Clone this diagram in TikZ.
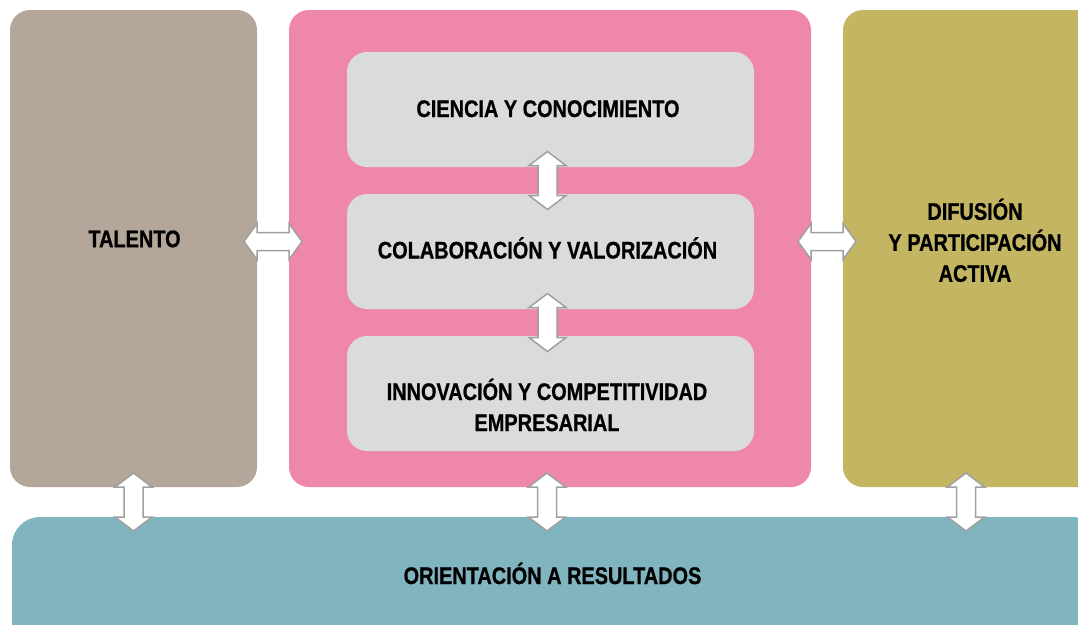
\documentclass[tikz,border=0pt]{standalone}
\usepackage{fontspec}
\newfontfamily\labfont{Liberation Sans}[FakeStretch=0.83,FakeBold=0.8]
\usetikzlibrary{calc}
\definecolor{talentoc}{RGB}{180,166,152}
\definecolor{pinkc}{RGB}{239,135,168}
\definecolor{greenc}{RGB}{195,181,98}
\definecolor{bluec}{RGB}{128,181,192}
\definecolor{greyc}{RGB}{218,220,219}
\definecolor{arrowc}{RGB}{160,160,160}
\newcommand\capline[1]{\raisebox{0pt}[17pt][0pt]{#1}}
\newcommand\harrowat[1]{\draw[blockarrow] (#1) ++(-29,0) -- ++(13,-18) -- ++(0,9) -- ++(32,0) -- ++(0,-9) -- ++(13,18) -- ++(-13,18) -- ++(0,-9) -- ++(-32,0) -- ++(0,9) -- cycle;}
\newcommand\varrowat[1]{\draw[blockarrow] (#1) ++(0,-29) -- ++(18.5,14) -- ++(-9,0) -- ++(0,30) -- ++(9,0) -- ++(-18.5,14) -- ++(-18.5,-14) -- ++(9,0) -- ++(0,-30) -- ++(-9,0) -- cycle;}
\tikzset{
  box/.style={draw=none, inner sep=0pt, outer sep=0pt, anchor=north west, rounded corners=20pt},
  lab/.style={inner sep=0pt, align=center, font=\labfont\bfseries\fontsize{24}{31}\selectfont, text=black},
  blockarrow/.style={fill=white, draw=arrowc, line width=1.5pt, line join=miter}
}
\begin{document}
\begin{tikzpicture}[x=1pt,y=-1pt]
\clip (0,0) rectangle (1078,624);
% boxes
\node[box, fill=talentoc, minimum width=247pt, minimum height=477pt] (talento) at (10,10) {};
\node[box, fill=pinkc, minimum width=522pt, minimum height=477pt] (pink) at (289,10) {};
\node[box, fill=greenc, minimum width=264pt, minimum height=477pt] (green) at (843,10) {};
\node[box, fill=bluec, minimum width=1088pt, minimum height=150pt, rounded corners=28pt] (blue) at (12,517) {};
\node[box, fill=greyc, minimum width=407pt, minimum height=115pt] (c1) at (347,52) {};
\node[box, fill=greyc, minimum width=407pt, minimum height=115pt] (c2) at (347,194) {};
\node[box, fill=greyc, minimum width=407pt, minimum height=115pt] (c3) at (347,336) {};
% texts
\node[lab] (tt) at (134.5,238.7) {\capline{TALENTO}};
\node[lab] (t1) at (548,108.5) {\capline{CIENCIA Y CONOCIMIENTO}};
\node[lab] (t2) at (547.5,250) {\capline{COLABORACIÓN Y VALORIZACIÓN}};
\node[lab] (t3) at (547,407) {\capline{INNOVACIÓN Y COMPETITIVIDAD}\\\capline{EMPRESARIAL}};
\node[lab] (tg) at (975,242.3) {\capline{DIFUSIÓN}\\\capline{Y PARTICIPACIÓN}\\\capline{ACTIVA}};
\node[lab] (tb) at (552.5,575.5) {\capline{ORIENTACIÓN A RESULTADOS}};
% connectors
\harrowat{$(talento.east)!0.5!(pink.west)+(0,-7)$}
\harrowat{$(pink.east)!0.5!(green.west)+(0,-7)$}
\varrowat{$(c1.south)!0.5!(c2.north)+(-3,0)$}
\varrowat{$(c2.south)!0.5!(c3.north)+(-3,0)$}
\varrowat{$(talento.south)!0.5!(talento.south |- blue.north)$}
\varrowat{$(pink.south)!0.5!(pink.south |- blue.north)+(-3,0)$}
\varrowat{$(green.south -| 966,0)!0.5!(blue.north -| 966,0)$}
\end{tikzpicture}
\end{document}
